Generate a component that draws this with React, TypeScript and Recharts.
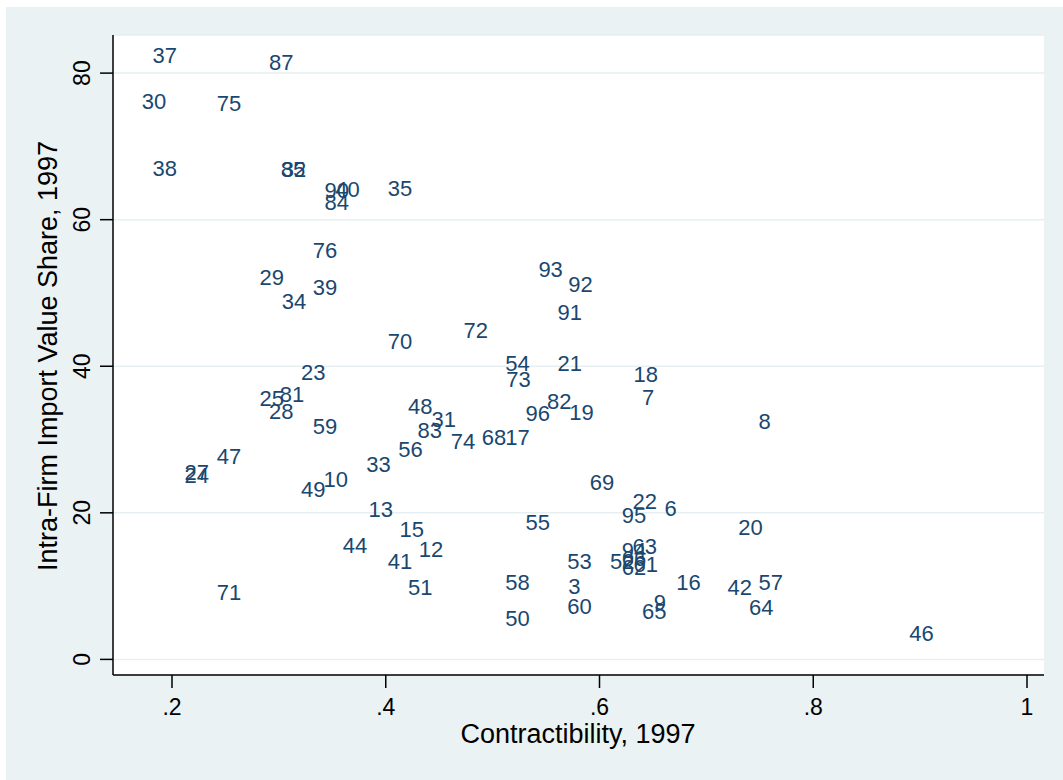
import { ScatterChart, Scatter, XAxis, YAxis, CartesianGrid } from 'recharts';

// industry labels, contractibility (x) and intra-firm import share (y)
const labels = [
  '37', '87', '30', '75', '38', '85', '32', '90', '40', '84',
  '35', '76', '29', '39', '34', '70', '23', '25', '81', '28',
  '59', '48', '31', '83', '56', '47', '27', '24', '49', '10',
  '33', '13', '15', '44', '12', '41', '71', '51', '93', '92',
  '91', '72', '54', '21', '73', '18', '7', '96', '82', '19',
  '74', '68', '17', '69', '22', '6', '95', '55', '63', '94',
  '52', '66', '61', '62', '53', '58', '3', '60', '50', '16',
  '9', '65', '8', '20', '42', '57', '64', '46',
];
const contractibility = [
  0.179, 0.288, 0.169, 0.239, 0.179, 0.299, 0.300, 0.340, 0.350, 0.340,
  0.399, 0.329, 0.279, 0.329, 0.300, 0.399, 0.318, 0.279, 0.298, 0.288,
  0.329, 0.418, 0.440, 0.427, 0.409, 0.239, 0.209, 0.209, 0.318, 0.339,
  0.379, 0.381, 0.410, 0.357, 0.428, 0.399, 0.239, 0.418, 0.540, 0.568,
  0.558, 0.470, 0.509, 0.558, 0.510, 0.629, 0.637, 0.528, 0.548, 0.569,
  0.458, 0.487, 0.509, 0.588, 0.628, 0.658, 0.618, 0.528, 0.628, 0.618,
  0.607, 0.618, 0.629, 0.618, 0.567, 0.509, 0.568, 0.567, 0.509, 0.669,
  0.648, 0.637, 0.746, 0.727, 0.717, 0.746, 0.737, 0.887,
];
const intraFirmShare = [
  82.5, 81.5, 76.2, 75.9, 67.1, 66.9, 66.9, 64.1, 64.2, 62.4,
  64.3, 55.9, 52.2, 50.8, 48.9, 43.5, 39.2, 35.7, 36.2, 33.9,
  31.9, 34.6, 32.8, 31.3, 28.7, 27.8, 25.6, 25.2, 23.2, 24.6,
  26.7, 20.5, 17.8, 15.6, 15.1, 13.4, 9.2, 9.9, 53.3, 51.2,
  47.4, 45.0, 40.5, 40.4, 38.3, 38.9, 35.8, 33.6, 35.3, 33.8,
  29.8, 30.3, 30.3, 24.2, 21.6, 20.7, 19.7, 18.7, 15.5, 14.9,
  13.4, 13.8, 13.0, 12.6, 13.4, 10.6, 10.0, 7.3, 5.6, 10.6,
  7.8, 6.6, 32.5, 18.1, 9.9, 10.6, 7.1, 3.6,
];

const xTicks = [0.2, 0.4, 0.6, 0.8, 1];
const xTickLabels = ['.2', '.4', '.6', '.8', '1'];
const yTicks = [0, 20, 40, 60, 80];

const data = labels.map((label, i) => ({ label, x: contractibility[i], y: intraFirmShare[i] }));

const navy = '#1a476f';
const font = '"Liberation Sans", Arial, sans-serif';

function MarkerLabel(props: any) {
  const { cx, cy, payload } = props;
  return (
    <text x={cx + 3} y={cy} dy="0.36em" fontSize={22} fill={navy} fontFamily={font}>
      {payload.label}
    </text>
  );
}

function XTick(props: any) {
  const { x, payload } = props;
  const i = xTicks.indexOf(payload.value);
  return (
    <text x={x} y={715} textAnchor="middle" fontSize={23} fill="#000" fontFamily={font}>
      {xTickLabels[i]}
    </text>
  );
}

function YTick(props: any) {
  const { y, payload } = props;
  return (
    <text x={90} y={y} transform={`rotate(-90 90 ${y})`} textAnchor="middle" fontSize={23} fill="#000" fontFamily={font}>
      {payload.value}
    </text>
  );
}

export default function App() {
  return (
    <div style={{ position: 'absolute', left: 0, top: 0, width: 1063, height: 780, background: '#fff' }}>
      <div style={{ position: 'absolute', left: 6, top: 7, right: 0, bottom: 0, background: '#eaf2f3' }} />
      <div style={{ position: 'absolute', left: 0, top: 0 }}>
        <ScatterChart width={1063} height={780} margin={{ top: 35, right: 19, bottom: 75, left: 53 }}>
          <CartesianGrid vertical={false} stroke="#e6eff1" strokeWidth={1.5} fill="#fff" />
          <XAxis
            type="number"
            dataKey="x"
            domain={[0.1448, 1.0159]}
            ticks={xTicks}
            allowDataOverflow
            height={30}
            tickSize={13}
            tick={XTick}
            axisLine={{ stroke: '#000', strokeWidth: 1.5 }}
            tickLine={{ stroke: '#000', strokeWidth: 1.5 }}
            label={{
              content: () => (
                <text x={578} y={743} textAnchor="middle" fontSize={27} fill="#000" fontFamily={font}>
                  Contractibility, 1997
                </text>
              ),
            }}
          />
          <YAxis
            type="number"
            dataKey="y"
            domain={[-2.13, 85.2]}
            ticks={yTicks}
            allowDataOverflow
            width={60}
            tickSize={13}
            tick={YTick}
            axisLine={{ stroke: '#000', strokeWidth: 1.5 }}
            tickLine={{ stroke: '#000', strokeWidth: 1.5 }}
            label={{
              content: () => (
                <text x={57} y={356} transform="rotate(-90 57 356)" textAnchor="middle" fontSize={27} fill="#000" fontFamily={font}>
                  Intra-Firm Import Value Share, 1997
                </text>
              ),
            }}
          />
          <Scatter data={data} shape={MarkerLabel} isAnimationActive={false} />
        </ScatterChart>
      </div>
    </div>
  );
}
